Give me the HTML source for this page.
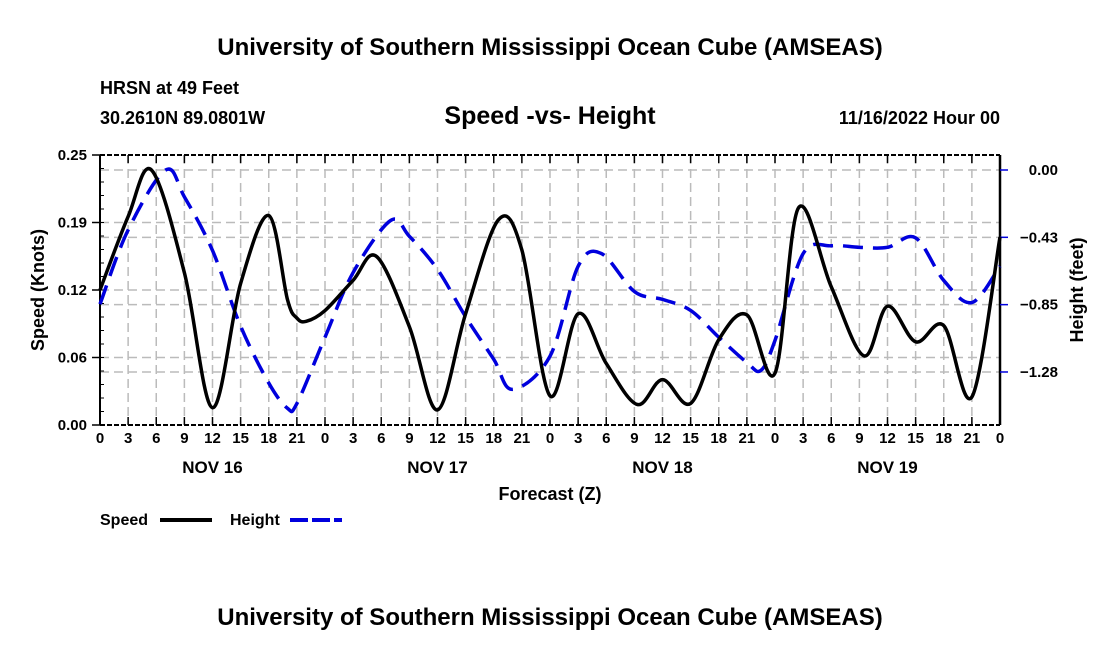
<!DOCTYPE html>
<html><head><meta charset="utf-8"><style>
body{margin:0;background:#fff}
svg text{font-family:"Liberation Sans",Arial,sans-serif;font-weight:bold;fill:#000}
</style></head><body>
<svg id="chart" width="1100" height="650" viewBox="0 0 1100 650">
<text x="550" y="55" font-size="24" text-anchor="middle">University of Southern Mississippi Ocean Cube (AMSEAS)</text>
<text x="100" y="94" font-size="18">HRSN at 49 Feet</text>
<text x="100" y="124" font-size="18">30.2610N  89.0801W</text>
<text x="550" y="124" font-size="25" text-anchor="middle">Speed -vs- Height</text>
<text x="1000" y="124" font-size="18" text-anchor="end">11/16/2022 Hour 00</text>
<g id="grid"></g>
<g id="axes"></g>
<g id="series"></g>
<text x="550" y="500" font-size="18" text-anchor="middle">Forecast (Z)</text>
<text transform="translate(44,290) rotate(-90)" font-size="18" text-anchor="middle">Speed (Knots)</text>
<text transform="translate(1083,290) rotate(-90)" font-size="18" text-anchor="middle">Height (feet)</text>
<g>
<text x="100" y="525" font-size="16">Speed</text>
<line x1="160" y1="520" x2="212" y2="520" stroke="#000" stroke-width="4"/>
<text x="230" y="525" font-size="16">Height</text>
<line x1="290" y1="520" x2="342" y2="520" stroke="#0000dd" stroke-width="4" stroke-dasharray="18 4"/>
</g>
<text x="550" y="625" font-size="24" text-anchor="middle">University of Southern Mississippi Ocean Cube (AMSEAS)</text>
</svg>
<script>
const speedHours=[0,3,5.5,9,12,15,18,20,21,22,24,27,29.5,33,36,39,42.5,45,48,51,54,57.3,60,63,66,69,72,74.5,78,81.5,84,87,90,93,96];
const speedValues=[0.125,0.193,0.236,0.141,0.016,0.131,0.194,0.116,0.099,0.096,0.106,0.134,0.156,0.091,0.014,0.103,0.190,0.162,0.027,0.103,0.057,0.019,0.042,0.020,0.079,0.102,0.048,0.201,0.128,0.064,0.110,0.077,0.092,0.026,0.174];
const heightHours=[0,3,7,9,12,15,18,20,21,24,27,31,33,36,39,42,44,48,51,53.5,57,60,63,66,69,70.5,72,75,78,81,84,87,90,93,96];
const heightValues=[-0.85,-0.38,0.0,-0.17,-0.51,-0.99,-1.35,-1.51,-1.48,-1.06,-0.65,-0.32,-0.42,-0.63,-0.93,-1.20,-1.39,-1.18,-0.61,-0.53,-0.77,-0.82,-0.89,-1.06,-1.22,-1.27,-1.08,-0.53,-0.48,-0.49,-0.49,-0.43,-0.70,-0.84,-0.61];
const speedTicks=[0,0.0625,0.125,0.1875,0.25];
const speedTickLabels=["0.00","0.06","0.12","0.19","0.25"];
const heightTicks=[0,-0.4266,-0.8533,-1.28];
const heightTickLabels=["0.00","\u22120.43","\u22120.85","\u22121.28"];
const dayLabels=["NOV 16","NOV 17","NOV 18","NOV 19"];

const L=100,R=1000,T=155,B=425,NS="http://www.w3.org/2000/svg";
const xs=h=>L+h*(R-L)/96;
const ys=v=>B-v*(B-T)/0.25;
const yh=v=>170-v*157.8;
function mk(tag,attrs,parent,text){const e=document.createElementNS(NS,tag);for(const k in attrs)e.setAttribute(k,attrs[k]);if(text!==undefined)e.textContent=text;parent.appendChild(e);return e;}
const grid=document.getElementById('grid'),axes=document.getElementById('axes'),series=document.getElementById('series');
const gs={stroke:"#bbb","stroke-width":1.5,"stroke-dasharray":"9 5"};
for(let h=3;h<96;h+=3){const l=mk('line',Object.assign({x1:xs(h),x2:xs(h),y1:T,y2:B},gs),grid);

}
speedTicks.slice(1,4).forEach(v=>{const l=mk('line',Object.assign({x1:L,x2:R,y1:ys(v),y2:ys(v)},gs),grid);

});
heightTicks.forEach(v=>{const l=mk('line',Object.assign({x1:L,x2:R,y1:yh(v),y2:yh(v)},gs),grid);

});
mk('line',{x1:L,x2:L,y1:T,y2:B,stroke:"#000","stroke-width":2},axes);
mk('line',{x1:R,x2:R,y1:T,y2:B,stroke:"#000","stroke-width":2.5},axes);
mk('line',{x1:L,x2:R,y1:B,y2:B,stroke:"#000","stroke-width":2,"stroke-dasharray":"5 2"},axes);
mk('line',{x1:L,x2:R,y1:T,y2:T,stroke:"#000","stroke-width":2,"stroke-dasharray":"5 2"},axes);
for(let h=0;h<=96;h+=3){
 mk('line',{x1:xs(h),x2:xs(h),y1:B,y2:B-8,stroke:"#000","stroke-width":1.5},axes);
 mk('line',{x1:xs(h),x2:xs(h),y1:T,y2:T+8,stroke:"#000","stroke-width":1.5},axes);
 const t=mk('text',{x:xs(h),y:B+18,"font-size":15,"text-anchor":"middle"},axes,String(h%24));
 
 
}
dayLabels.forEach((d,i)=>{const t=mk('text',{x:xs(12+24*i),y:B+48,"font-size":17,"text-anchor":"middle"},axes,d);

});
speedTicks.forEach((v,i)=>{mk('line',{x1:L-8,x2:L,y1:ys(v),y2:ys(v),stroke:"#000","stroke-width":1.5},axes);
const t=mk('text',{x:L-13,y:ys(v)+5,"font-size":15,"text-anchor":"end"},axes,speedTickLabels[i]);

});
for(let v=0;v<=0.25;v+=0.0125){mk('line',{x1:L,x2:L+4,y1:ys(v),y2:ys(v),stroke:"#000","stroke-width":1},axes);}
heightTicks.forEach((v,i)=>{mk('line',{x1:R,x2:R+8,y1:yh(v),y2:yh(v),stroke:"#0000dd","stroke-width":1.5},axes);
const t=mk('text',{x:1058,y:yh(v)+5,"font-size":15,"text-anchor":"end"},axes,heightTickLabels[i]);

});
function smooth(pts){let d=`M${pts[0][0]},${pts[0][1]}`;
for(let i=0;i<pts.length-1;i++){const p0=pts[Math.max(0,i-1)],p1=pts[i],p2=pts[i+1],p3=pts[Math.min(pts.length-1,i+2)];
const c1=[p1[0]+(p2[0]-p0[0])/6,p1[1]+(p2[1]-p0[1])/6],c2=[p2[0]-(p3[0]-p1[0])/6,p2[1]-(p3[1]-p1[1])/6];
d+=` C${c1[0]},${c1[1]} ${c2[0]},${c2[1]} ${p2[0]},${p2[1]}`;}return d;}
const hp=mk('path',{d:smooth(heightHours.map((h,i)=>[xs(h),yh(heightValues[i])])),fill:"none",stroke:"#0000dd","stroke-width":3.5,"stroke-dasharray":"20 10"},series);


const sp=mk('path',{d:smooth(speedHours.map((h,i)=>[xs(h),ys(speedValues[i])])),fill:"none",stroke:"#000","stroke-width":3.5,"stroke-linejoin":"round"},series);


</script>
</body></html>
